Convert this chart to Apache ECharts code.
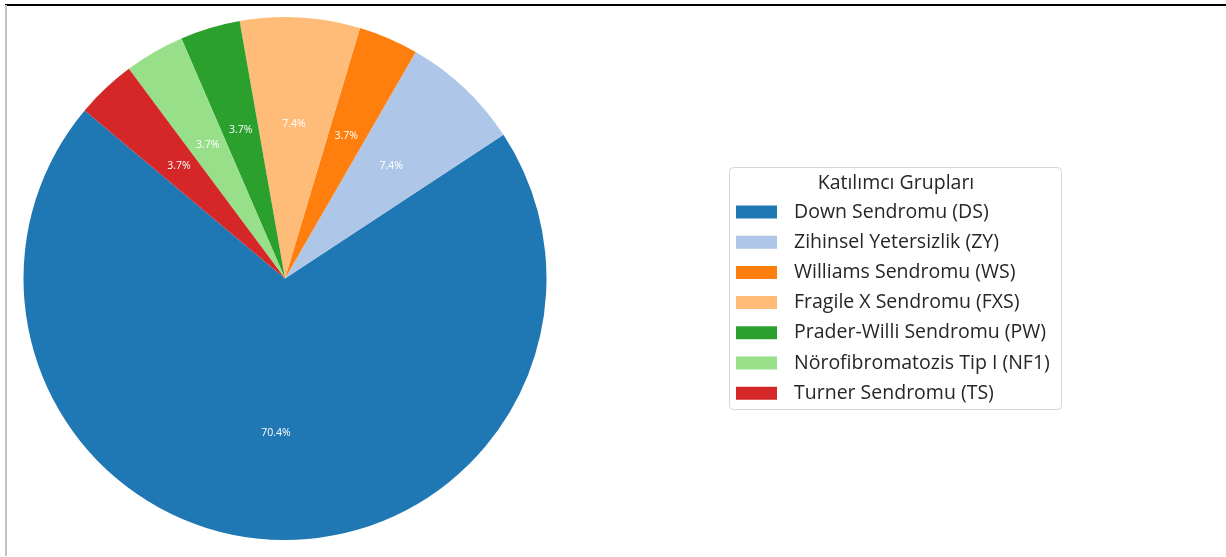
<!DOCTYPE html>
<html>
<head>
<meta charset="utf-8">
<script src="https://cdn.jsdelivr.net/npm/echarts@6/dist/echarts.min.js"></script>
<style>
  html, body { margin: 0; padding: 0; background: #ffffff; }
  #chart { width: 1226px; height: 557px; }
</style>
</head>
<body>
<div id="chart"></div>
<script>
// Participant groups and their counts (27 participants in total)
const groupNames = [
  'Down Sendromu (DS)',
  'Zihinsel Yetersizlik (ZY)',
  'Williams Sendromu (WS)',
  'Fragile X Sendromu (FXS)',
  'Prader-Willi Sendromu (PW)',
  'Nörofibromatozis Tip I (NF1)',
  'Turner Sendromu (TS)'
];
const groupCounts = [19, 2, 1, 2, 1, 1, 1];
const groupColors = ['#1f77b4', '#aec7e8', '#ff7f0e', '#ffbb78', '#2ca02c', '#98df8a', '#d62728'];
const legendTitle = 'Katılımcı Grupları';

const FONT = '"Open Sans", Roboto, "DejaVu Sans", sans-serif';
const CX = 285, CY = 278.5, R = 261.5;

const sliceData = groupNames.map((name, i) => ({
  name: name,
  value: groupCounts[i],
  itemStyle: { color: groupColors[i] }
}));

// Transparent copy of the pie, slightly larger, so its "inside" labels sit near 0.6 of the real radius
const labelData = groupNames.map((name, i) => ({
  name: name,
  value: groupCounts[i],
  itemStyle: { color: 'rgba(0,0,0,0)' }
}));

const chart = echarts.init(document.getElementById('chart'), null, { renderer: 'canvas' });

chart.setOption({
  animation: false,
  backgroundColor: '#ffffff',
  color: groupColors,
  graphic: [
    // frame lines
    { type: 'rect', shape: { x: 5, y: 4, width: 1221, height: 2 }, style: { fill: '#000000' }, z: 10 },
    { type: 'rect', shape: { x: 5, y: 5, width: 2, height: 551 }, style: { fill: '#c4c4c4' }, z: 10 },
    // legend frame
    {
      type: 'rect',
      shape: { x: 729.5, y: 167.5, width: 332, height: 242, r: 4 },
      style: { fill: 'rgba(255,255,255,0.8)', stroke: '#d6d6d6', lineWidth: 1 },
      z: 1
    },
    {
      type: 'text',
      x: 896, y: 183,
      style: {
        text: legendTitle,
        font: '19.5px ' + FONT,
        fill: '#262626',
        align: 'center',
        verticalAlign: 'middle'
      },
      z: 2
    }
  ],
  legend: {
    orient: 'vertical',
    left: 736,
    top: 202,
    padding: 0,
    itemWidth: 41,
    itemHeight: 13,
    itemGap: 10.2,
    icon: 'rect',
    data: groupNames,
    textStyle: {
      fontFamily: FONT,
      fontSize: 19.5,
      color: '#262626',
      padding: [0, 0, 0, 12]
    },
    z: 3
  },
  series: [
    {
      type: 'pie',
      center: [CX, CY],
      radius: [0, R],
      startAngle: 140,
      clockwise: false,
      silent: true,
      itemStyle: { borderWidth: 0 },
      label: { show: false },
      labelLine: { show: false },
      data: sliceData
    },
    {
      type: 'pie',
      center: [CX, CY],
      radius: [0, R * 1.16],
      startAngle: 140,
      clockwise: false,
      silent: true,
      percentPrecision: 1,
      itemStyle: { borderWidth: 0 },
      label: {
        show: true,
        position: 'inside',
        color: '#ffffff',
        fontFamily: FONT,
        fontSize: 10.5,
        formatter: p => p.percent.toFixed(1) + '%'
      },
      labelLine: { show: false },
      data: labelData
    }
  ]
});
</script>
</body>
</html>
